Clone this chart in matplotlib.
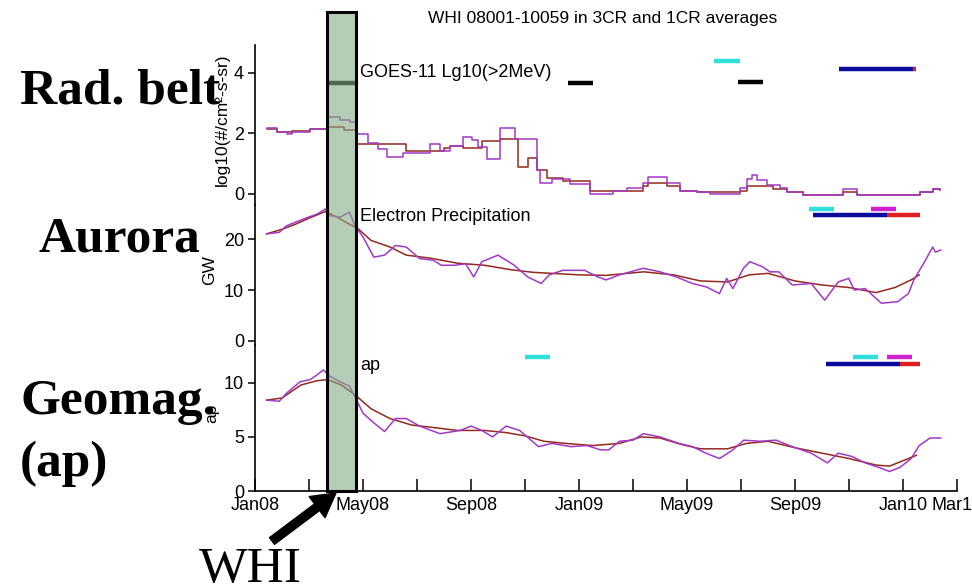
import numpy as np
import matplotlib
matplotlib.use("Agg")
import matplotlib.pyplot as plt
from matplotlib.patches import Rectangle, FancyArrowPatch
from matplotlib.transforms import blended_transform_factory

# x values are months since 1 Jan 2008
# --- radiation belt, GOES-11 log10 flux (step-like CR averages)
belt_1cr_m = [0.43, 0.80, 1.17, 1.36, 2.04, 2.65, 3.15, 3.52, 3.77, 4.20, 4.57, 4.88, 5.49, 6.48, 6.85,
              7.22, 7.72, 8.02, 8.27, 8.58, 9.07, 9.63, 10.43, 10.56, 10.99, 11.67, 12.41, 13.27, 13.77,
              14.38, 14.57, 15.25, 15.74, 16.36, 16.85, 17.96, 18.21, 18.40, 18.58, 18.95, 19.44, 19.69,
              20.31, 21.79, 22.28, 24.63, 25.12, 25.37]
belt_1cr_v = [2.17, 2.05, 1.97, 2.05, 2.13, 2.52, 2.45, 2.38, 1.97, 1.69, 1.48, 1.20, 1.36, 1.64, 1.42,
              1.58, 1.86, 1.78, 1.53, 1.14, 2.17, 1.80, 0.80, 0.37, 0.50, 0.33, 0.00, 0.10, 0.20,
              0.35, 0.57, 0.35, 0.10, 0.05, -0.02, 0.20, 0.50, 0.62, 0.44, 0.30, 0.18, 0.05,
              -0.03, 0.15, -0.03, 0.07, 0.15, 0.12]
belt_3cr_m = [0.43, 0.80, 1.36, 2.04, 2.65, 3.30, 3.77, 5.60, 7.00, 7.22, 7.72, 8.40, 9.07, 9.75, 10.12,
              10.43, 10.80, 11.42, 12.41, 13.27, 14.38, 14.57, 15.25, 15.74, 16.36, 17.96, 18.21, 19.20,
              19.69, 20.31, 21.79, 22.28, 24.63, 25.12, 25.37]
belt_3cr_v = [2.15, 2.05, 2.08, 2.13, 2.20, 2.10, 1.64, 1.42, 1.50, 1.58, 1.50, 1.75, 1.80, 0.87, 1.17,
              0.80, 0.52, 0.42, 0.10, 0.10, 0.25, 0.35, 0.25, 0.10, 0.07, 0.10, 0.25, 0.16,
              0.05, -0.03, 0.05, -0.03, 0.07, 0.15, 0.12]

# --- aurora, electron precipitation (GW)
aur_1cr_m = [0.43, 0.9, 1.17, 1.5, 1.98, 2.3, 2.6, 2.78, 3.15, 3.5, 3.7, 4.0, 4.4, 4.8, 5.2, 5.6, 6.1,
             6.6, 6.9, 7.4, 7.8, 8.1, 8.4, 9.0, 9.6, 10.1, 10.6, 10.9, 11.4, 12.2, 12.7, 13.0, 13.5,
             14.38, 15.0, 15.6, 16.2, 16.73, 17.2, 17.47, 17.7, 18.09, 18.33, 18.8, 19.07, 19.4, 19.9,
             20.6, 21.1, 21.6, 21.99, 22.2, 22.6, 23.2, 23.8, 24.2, 24.4, 24.8, 25.1, 25.2, 25.4]
aur_1cr_v = [21.1, 21.4, 22.7, 23.4, 24.4, 25.0, 26.0, 24.7, 24.4, 25.4, 22.7, 20.5, 16.5, 16.9, 18.8,
             18.5, 16.2, 15.9, 14.9, 14.9, 15.2, 12.6, 15.6, 16.9, 14.9, 12.6, 11.3, 13.0, 13.9, 13.9,
             12.6, 12.0, 13.0, 14.3, 13.6, 12.6, 11.3, 10.6, 9.3, 12.3, 10.3, 14.3, 15.6, 14.6, 13.6,
             13.6, 11.0, 11.3, 8.0, 11.6, 12.3, 10.0, 10.3, 7.4, 7.7, 9.3, 12.0, 15.6, 18.5, 17.5, 17.9]
aur_3cr_m = [0.43, 1.0, 1.5, 2.0, 2.6, 3.0, 3.5, 3.8, 4.3, 5.0, 5.6, 6.5, 7.5, 8.5, 9.5, 10.3, 11.0,
             12.0, 13.0, 14.4, 15.5, 16.5, 17.5, 18.3, 19.0, 20.0, 21.0, 22.0, 23.0, 23.7, 24.3, 24.6]
aur_3cr_v = [21.1, 22.0, 23.0, 24.2, 25.5, 24.5, 23.0, 22.2, 19.8, 18.5, 16.9, 16.3, 15.3, 14.9, 14.0,
             13.5, 13.3, 13.0, 12.9, 13.6, 13.0, 11.8, 11.6, 13.0, 13.3, 11.8, 11.0, 10.5, 9.5, 10.5,
             12.0, 13.0]

# --- geomagnetic ap index
ap_1cr_m = [0.43, 0.9, 1.17, 1.67, 2.04, 2.28, 2.53, 2.78, 3.15, 3.5, 3.7, 4.0, 4.4, 4.8, 5.2, 5.6,
            6.1, 6.85, 7.6, 8.0, 8.4, 8.8, 9.3, 9.8, 10.5, 11.0, 11.7, 12.3, 12.8, 13.1, 13.5, 14.0,
            14.38, 15.0, 15.7, 16.2, 16.7, 17.2, 17.7, 18.1, 18.7, 19.3, 19.9, 20.6, 21.2, 21.6, 22.1,
            22.6, 23.2, 23.5, 23.9, 24.3, 24.6, 25.0, 25.4]
ap_1cr_v = [8.4, 8.3, 9.05, 10.1, 10.3, 10.7, 11.2, 10.6, 10.1, 9.7, 8.7, 7.2, 6.3, 5.5, 6.7, 6.7,
            6.0, 5.3, 5.6, 6.0, 5.6, 5.0, 6.0, 5.6, 4.1, 4.4, 4.1, 4.2, 3.8, 3.8, 4.6, 4.7,
            5.3, 5.0, 4.4, 4.1, 3.5, 3.0, 3.8, 4.7, 4.6, 4.7, 4.1, 3.5, 2.6, 3.5, 3.2,
            2.6, 2.1, 1.8, 2.2, 3.0, 4.2, 4.9, 4.9]
ap_3cr_m = [0.43, 1.0, 1.7, 2.3, 2.7, 3.2, 3.7, 4.3, 5.0, 5.8, 6.5, 7.5, 8.5, 9.3, 10.0, 10.7, 11.5,
            12.5, 13.5, 14.3, 15.0, 15.8, 16.5, 17.5, 18.2, 19.0, 20.0, 21.0, 22.0, 23.0, 23.5, 24.0, 24.5]
ap_3cr_v = [8.4, 8.6, 9.8, 10.2, 10.3, 9.8, 8.9, 7.6, 6.7, 6.1, 5.9, 5.6, 5.6, 5.4, 5.1, 4.6, 4.4,
            4.2, 4.4, 5.0, 4.9, 4.3, 3.9, 3.9, 4.4, 4.6, 4.0, 3.5, 3.0, 2.4, 2.3, 2.8, 3.3]

# CR interval bars: start, end, level, colour
belt_bar_start = [2.67, 11.59, 17.89, 17.00, 21.63, 24.37]
belt_bar_end = [3.74, 12.52, 18.81, 17.96, 24.37, 24.48]
belt_bar_val = [3.65, 3.65, 3.68, 4.38, 4.12, 4.12]
belt_bar_col = ["black", "black", "black", "#30dede", "#0c0c9c", "#e02020"]

aur_bar_start = [20.52, 22.81, 20.67, 23.41]
aur_bar_end = [21.44, 23.74, 23.41, 24.63]
aur_bar_val = [26.0, 26.0, 24.8, 24.8]
aur_bar_col = ["#30dede", "#d020d0", "#0c0c9c", "#e02020"]

ap_bar_start = [10.00, 22.15, 23.41, 21.15, 23.89]
ap_bar_end = [10.93, 23.07, 24.33, 23.89, 24.63]
ap_bar_val = [12.4, 12.4, 12.4, 11.7, 11.7]
ap_bar_col = ["#30dede", "#30dede", "#d020d0", "#0c0c9c", "#e02020"]

tick_months = list(range(0, 27, 2))
tick_names = {0: "Jan08", 4: "May08", 8: "Sep08", 12: "Jan09", 16: "May09", 20: "Sep09", 24: "Jan10", 26: "Mar10"}

whi_start, whi_end = 2.67, 3.74

c1 = "#a338c8"
c3 = "#932a1c"
sans = ["Liberation Sans", "DejaVu Sans"]
serif = ["Liberation Serif", "DejaVu Serif"]
plt.rcParams["font.family"] = sans

W, H = 972, 586
fig = plt.figure(figsize=(W / 100, H / 100), dpi=100)


def fy(p):
    return 1 - p / H


L, R = 255 / W, 957 / W
ax1 = fig.add_axes([L, fy(205), R - L, (205 - 45) / H])
ax2 = fig.add_axes([L, fy(345), R - L, (345 - 205) / H])
ax3 = fig.add_axes([L, fy(491), R - L, (491 - 345) / H])

panels = [
    (ax1, belt_1cr_m, belt_1cr_v, belt_3cr_m, belt_3cr_v, (-0.37, 4.91), [0, 2, 4],
     belt_bar_start, belt_bar_end, belt_bar_val, belt_bar_col, True),
    (ax2, aur_1cr_m, aur_1cr_v, aur_3cr_m, aur_3cr_v, (-0.85, 26.8), [0, 10, 20],
     aur_bar_start, aur_bar_end, aur_bar_val, aur_bar_col, False),
    (ax3, ap_1cr_m, ap_1cr_v, ap_3cr_m, ap_3cr_v, (0, 13.5), [0, 5, 10],
     ap_bar_start, ap_bar_end, ap_bar_val, ap_bar_col, False),
]

for ax, m1, v1, m3, v3, ylim, yt, bs, be, bv, bc, steps in panels:
    ax.patch.set_alpha(0)
    ds = "steps-post" if steps else "default"
    ax.plot(m3, v3, color=c3, lw=1.1, drawstyle=ds)
    ax.plot(m1, v1, color=c1, lw=1.1, drawstyle=ds)
    ax.hlines(bv, bs, be, colors=bc, lw=3.2)
    ax.set_xlim(0, 26)
    ax.set_ylim(*ylim)
    ax.set_yticks(yt)
    for s in ["top", "right", "bottom"]:
        ax.spines[s].set_visible(False)
    ax.spines["left"].set_linewidth(1.2)
    ax.tick_params(axis="y", direction="out", length=5, width=1.1, labelsize=13, pad=3)
    ax.tick_params(axis="x", bottom=False, labelbottom=False)

ax3.spines["bottom"].set_visible(True)
ax3.spines["bottom"].set_linewidth(1.2)
ax3.set_xticks(tick_months)
ax3.set_xticklabels([tick_names.get(t, "") for t in tick_months])
ax3.tick_params(axis="x", bottom=True, labelbottom=True, direction="in", length=9, width=1.1,
                labelsize=13, pad=4)

ax1.text(whi_end + 0.15, 4.0, "GOES-11 Lg10(>2MeV)", fontsize=13, va="center")
ax2.text(whi_end + 0.15, 24.5, "Electron Precipitation", fontsize=13, va="center")
ax3.text(whi_end + 0.15, 11.6, "ap", fontsize=13, va="center")

fig.text(0.620, fy(18), "WHI 08001-10059 in 3CR and 1CR averages", fontsize=12.5,
         ha="center", va="center")
fig.text(222 / W, fy(120), "log10(#/cm²-s-sr)", rotation=90, fontsize=12.5, ha="center", va="center")
fig.text(210 / W, fy(270), "GW", rotation=90, fontsize=12.5, ha="center", va="center")
fig.text(212 / W, fy(413), "ap", rotation=90, fontsize=12.5, ha="center", va="center")

# WHI interval box over all three panels (semi-transparent so the curves show through)
tr = blended_transform_factory(ax3.transData, fig.transFigure)
fig.add_artist(Rectangle((whi_start, fy(491)), whi_end - whi_start, (491 - 12) / H, transform=tr,
                         facecolor="#84ac84", alpha=0.6, edgecolor="none"))
fig.add_artist(Rectangle((whi_start, fy(491)), whi_end - whi_start, (491 - 12) / H, transform=tr,
                         facecolor="none", edgecolor="black", lw=2.2))

fig.add_artist(FancyArrowPatch((272 / W, fy(541)), (336 / W, fy(493)), transform=fig.transFigure,
                               arrowstyle="simple,head_length=0.85,head_width=0.95,tail_width=0.3",
                               mutation_scale=20, color="black", shrinkA=0, shrinkB=0))

for txt, x, y in [("Rad. belt", 20, 104), ("Aurora", 38, 251), ("Geomag.", 20, 414), ("(ap)", 20, 476)]:
    fig.text(x / W, fy(y), txt, family=serif, fontweight="bold", fontsize=37, va="baseline", ha="left")
fig.text(199 / W, fy(582), "WHI", family=serif, fontsize=37, va="baseline", ha="left")

fig.savefig("out.png", dpi=100)
